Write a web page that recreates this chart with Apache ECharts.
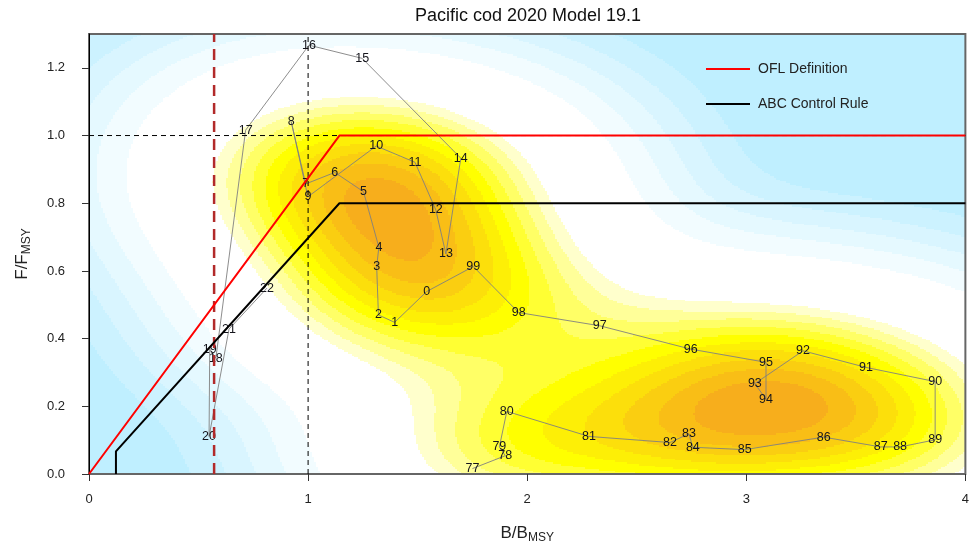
<!DOCTYPE html>
<html>
<head>
<meta charset="utf-8">
<script src="https://cdn.jsdelivr.net/npm/echarts@6/dist/echarts.min.js"></script>
<style>
  html, body { margin: 0; padding: 0; background: #ffffff; }
  #chart { width: 972px; height: 550px; }
</style>
</head>
<body>
<div id="chart"></div>
<script>
// ---- Stock trajectory 1977-2022 (two-digit year labels) ----
const yearLabels = ['77','78','79','80','81','82','83','84','85','86','87','88','89','90','91','92','93','94','95','96','97','98','99',
                    '0','1','2','3','4','5','6','7','8','9','10','11','12','13','14','15','16','17','18','19','20','21','22'];
const bRatio = [1.75, 1.90, 1.873, 1.907, 2.282, 2.652, 2.738, 2.756, 2.993, 3.353, 3.614, 3.702, 3.862, 3.862, 3.546, 3.259,
                3.039, 3.09, 3.09, 2.746, 2.331, 1.961, 1.754,
                1.541, 1.395, 1.321, 1.313, 1.323, 1.253, 1.122, 0.989, 0.923, 0.999, 1.311, 1.488, 1.583, 1.629, 1.697,
                1.247, 1.004, 0.715, 0.579, 0.551, 0.548, 0.639, 0.812];
const fRatio = [0.016, 0.054, 0.08, 0.185, 0.111, 0.093, 0.119, 0.079, 0.072, 0.109, 0.08, 0.08, 0.101, 0.273, 0.315, 0.364,
                0.267, 0.221, 0.33, 0.369, 0.438, 0.477, 0.613,
                0.539, 0.448, 0.47, 0.613, 0.67, 0.834, 0.891, 0.857, 1.041, 0.819, 0.969, 0.921, 0.78, 0.65, 0.933,
                1.228, 1.267, 1.016, 0.342, 0.369, 0.111, 0.428, 0.549];

// ---- Harvest control rules ----
const oflB = [0, 1.143, 4];
const oflF = [0, 1, 1];
const abcB = [0.123, 0.123, 1.143, 4];
const abcF = [0, 0.067, 0.8, 0.8];
const b20Ratio = 0.571;   // B20% / B35%

// ---- Axes ----
const xMin = 0, xMax = 4;
const yMin = 0, yMax = 1.3;
const xTicks = [0, 1, 2, 3, 4];
const yTicks = [0, 0.2, 0.4, 0.6, 0.8, 1.0, 1.2];

// ---- Density shading ----
const densityYearCount = 38;            // 1977-2014 make up the shaded density
const paletteAnchors = ['#BFEFFF', '#FFFFFF', '#FFFF00', '#F7AE1C'];
const paletteLevels = 16;
// lower edge of each colour level, as a fraction of the peak density
const levelBreaks = [0, 0.006, 0.015, 0.03, 0.055, 0.10,
                     0.375, 0.4375, 0.5, 0.5625, 0.625, 0.6875, 0.75, 0.8125, 0.875, 0.9375];

const FONT = "'Liberation Sans', Arial, sans-serif";

function hexToRgb(h) {
  return [parseInt(h.slice(1, 3), 16), parseInt(h.slice(3, 5), 16), parseInt(h.slice(5, 7), 16)];
}
function rampPalette(anchors, n) {
  const rgb = anchors.map(hexToRgb);
  const out = [];
  for (let i = 0; i < n; i++) {
    const t = i / (n - 1) * (rgb.length - 1);
    const k = Math.min(rgb.length - 2, Math.floor(t));
    const f = t - k;
    const c = rgb[k].map((v, j) => Math.round(v + (rgb[k + 1][j] - v) * f));
    out.push('rgb(' + c.join(',') + ')');
  }
  return out;
}
const palette = rampPalette(paletteAnchors, paletteLevels);

// Normal-reference bandwidth (as in MASS::bandwidth.nrd)
function quantile(sorted, p) {
  const h = (sorted.length - 1) * p;
  const lo = Math.floor(h), hi = Math.ceil(h);
  return sorted[lo] + (sorted[hi] - sorted[lo]) * (h - lo);
}
function bandwidthNrd(x) {
  const s = x.slice().sort((a, b) => a - b);
  const n = x.length;
  const mean = x.reduce((a, b) => a + b, 0) / n;
  const sd = Math.sqrt(x.reduce((a, b) => a + (b - mean) * (b - mean), 0) / (n - 1));
  const iqr = (quantile(s, 0.75) - quantile(s, 0.25)) / 1.34;
  return 4 * 1.06 * Math.min(sd, iqr) * Math.pow(n, -0.2);
}

// 2-D kernel density of the stock trajectory, binned into colour levels and
// run-length encoded per row so each run becomes one rectangle.
function densityRuns() {
  const bs = bRatio.slice(0, densityYearCount);
  const fs = fRatio.slice(0, densityYearCount);
  const nx = 440, ny = 260;
  const dx = (xMax - xMin) / nx, dy = (yMax - yMin) / ny;
  const hx = bandwidthNrd(bs) / 4;
  const hy = bandwidthNrd(fs) / 4;
  const n = bs.length;
  const kx = [], ky = [];
  for (let i = 0; i < nx; i++) {
    const x = xMin + (i + 0.5) * dx;
    kx.push(bs.map(b => Math.exp(-0.5 * ((x - b) / hx) ** 2)));
  }
  for (let j = 0; j < ny; j++) {
    const y = yMin + (j + 0.5) * dy;
    ky.push(fs.map(f => Math.exp(-0.5 * ((y - f) / hy) ** 2)));
  }
  const z = [];
  let zmax = -Infinity;
  for (let j = 0; j < ny; j++) {
    const row = new Float64Array(nx);
    for (let i = 0; i < nx; i++) {
      let s = 0;
      for (let k = 0; k < n; k++) s += kx[i][k] * ky[j][k];
      row[i] = s;
      if (s > zmax) zmax = s;
    }
    z.push(row);
  }
  const level = v => {
    const f = v / zmax;
    let l = 0;
    while (l + 1 < levelBreaks.length && f >= levelBreaks[l + 1]) l++;
    return l;
  };
  const runs = [];
  for (let j = 0; j < ny; j++) {
    const y0 = yMin + j * dy, y1 = y0 + dy;
    let start = 0;
    let lev = level(z[j][0]);
    for (let i = 1; i <= nx; i++) {
      const l = i < nx ? level(z[j][i]) : -1;
      if (l !== lev) {
        runs.push([xMin + start * dx, xMin + i * dx, y0, y1, lev]);
        start = i;
        lev = l;
      }
    }
  }
  return runs;
}

const pairs = (xs, ys) => xs.map((x, i) => [x, ys[i]]);

const chart = echarts.init(document.getElementById('chart'), null, { renderer: 'canvas' });

const axisNameRich = {
  m: { fontFamily: FONT, fontSize: 17, color: '#222222', lineHeight: 22 },
  s: { fontFamily: FONT, fontSize: 12, color: '#222222', lineHeight: 8, verticalAlign: 'bottom' }
};

const option = {
  animation: false,
  backgroundColor: '#ffffff',
  textStyle: { fontFamily: FONT },
  grid: {
    left: 89, right: 5, top: 34, bottom: 76,
    show: true, borderColor: '#666666', borderWidth: 2, backgroundColor: 'transparent', z: 3
  },
  legend: {
    orient: 'vertical',
    left: 706, top: 62, padding: 0,
    itemWidth: 44, itemHeight: 2, itemGap: 21,
    icon: 'rect',
    data: ['OFL Definition', 'ABC Control Rule'],
    textStyle: { fontFamily: FONT, fontSize: 14, color: '#222222', padding: [0, 0, 0, 3] }
  },
  xAxis: {
    type: 'value', min: xMin, max: xMax, interval: 1, z: 6,
    name: '{m|B/B}{s|MSY}', nameLocation: 'middle', nameGap: 48,
    nameTextStyle: { rich: axisNameRich },
    axisLine: { show: false },
    axisTick: { show: true, length: 7, lineStyle: { color: '#333333', width: 1 }, customValues: xTicks },
    axisLabel: { fontFamily: FONT, fontSize: 13, color: '#222222', margin: 19, customValues: xTicks },
    splitLine: { show: false }
  },
  yAxis: {
    type: 'value', min: yMin, max: yMax, interval: 0.2, z: 6,
    name: '{m|F/F}{s|MSY}', nameLocation: 'middle', nameGap: 56, nameRotate: 90,
    nameTextStyle: { rich: axisNameRich },
    axisLine: { show: true, onZero: false, lineStyle: { color: '#000000', width: 1 } },
    axisTick: { show: true, length: 7, lineStyle: { color: '#333333', width: 1 }, customValues: yTicks },
    axisLabel: {
      fontFamily: FONT, fontSize: 13, color: '#222222', margin: 24, customValues: yTicks,
      formatter: v => v.toFixed(1)
    },
    splitLine: { show: false }
  },
  graphic: [{
    type: 'text', x: 528, y: 16, z: 10,
    style: {
      text: 'Pacific cod 2020 Model 19.1', fontFamily: FONT, fontSize: 18, fill: '#111111',
      textAlign: 'center', textVerticalAlign: 'middle'
    }
  }],
  series: [
    {
      // density shading
      type: 'custom', z: 1, silent: true, clip: true,
      data: densityRuns(),
      encode: { x: [0, 1], y: [2, 3] },
      renderItem: function (params, api) {
        const p0 = api.coord([api.value(0), api.value(3)]);
        const p1 = api.coord([api.value(1), api.value(2)]);
        const x = Math.round(p0[0]), y = Math.round(p0[1]);
        return {
          type: 'rect',
          shape: { x: x, y: y, width: Math.round(p1[0]) - x, height: Math.round(p1[1]) - y },
          style: { fill: palette[api.value(4)] }
        };
      }
    },
    {
      // trajectory path
      type: 'line', z: 5, silent: true, symbol: 'none',
      data: pairs(bRatio, fRatio),
      lineStyle: { color: '#808080', width: 0.9 }
    },
    {
      // year labels
      type: 'scatter', z: 6, silent: true, symbolSize: 0,
      data: pairs(bRatio, fRatio),
      itemStyle: { opacity: 1 },
      label: {
        show: true, position: 'inside', fontFamily: FONT, fontSize: 12.5, color: '#15151c', opacity: 1,
        textBorderWidth: 0, textBorderColor: 'transparent',
        formatter: p => yearLabels[p.dataIndex]
      }
    },
    {
      type: 'line', z: 7, silent: true, symbol: 'none',
      data: [[1, yMin], [1, yMax]],
      lineStyle: { color: '#000000', width: 1, type: [5, 4] }
    },
    {
      type: 'line', z: 7, silent: true, symbol: 'none',
      data: [[xMin, 1], [xMax, 1]],
      lineStyle: { color: '#000000', width: 1, type: [5, 4] }
    },
    {
      type: 'line', z: 7, silent: true, symbol: 'none',
      data: [[b20Ratio, yMin], [b20Ratio, yMax]],
      lineStyle: { color: '#b22a2a', width: 2.5, type: [11, 7] }
    },
    {
      name: 'OFL Definition', type: 'line', z: 8, silent: true, symbol: 'none',
      data: pairs(oflB, oflF),
      color: '#ff0000',
      lineStyle: { color: '#ff0000', width: 2 }
    },
    {
      name: 'ABC Control Rule', type: 'line', z: 8, silent: true, symbol: 'none',
      data: pairs(abcB, abcF),
      color: '#000000',
      lineStyle: { color: '#000000', width: 2 }
    }
  ]
};
chart.setOption(option);
</script>
</body>
</html>
